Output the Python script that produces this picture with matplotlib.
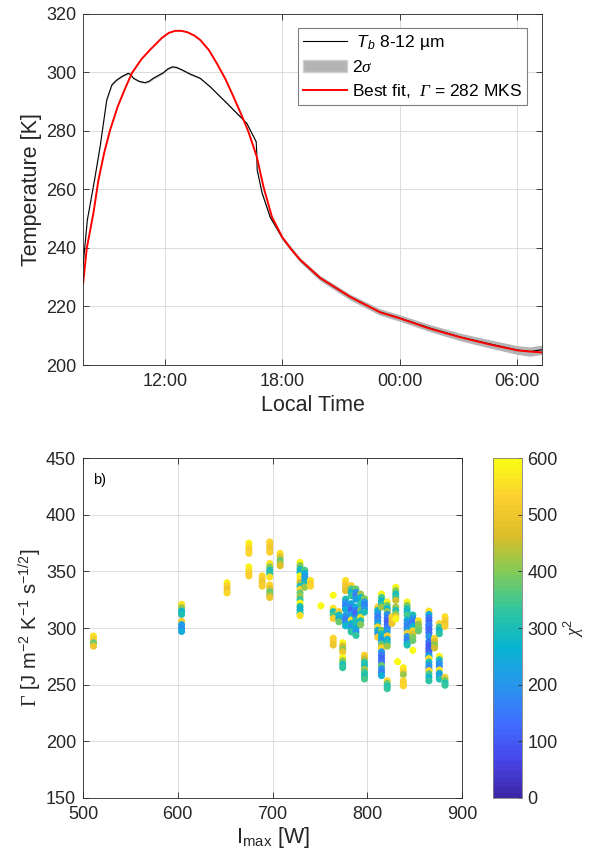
import matplotlib
matplotlib.use("Agg")
from matplotlib import pyplot as plt
from matplotlib.colors import LinearSegmentedColormap
from matplotlib.patches import Patch
from matplotlib.lines import Line2D
import numpy as np

plt.rcParams['font.family'] = ['Liberation Sans', 'DejaVu Sans']
plt.rcParams['mathtext.fontset'] = 'custom'
plt.rcParams['mathtext.rm'] = 'Liberation Sans'
plt.rcParams['mathtext.it'] = 'Liberation Sans:italic'
plt.rcParams['mathtext.bf'] = 'Liberation Serif'
plt.rcParams['mathtext.cal'] = 'Liberation Serif:italic'

# ---- top panel: brightness temperature vs local time (hours, >24 = next day)
hours_obs = [7.82, 8.04, 8.4, 8.69, 9.03, 9.29, 9.37, 9.54, 9.8, 10.13, 10.25, 10.39,
             10.7, 10.99, 11.2, 11.41, 11.92, 12.15, 12.38, 12.6, 12.86, 13.3, 13.8,
             14.31, 15.16, 16.18, 16.66, 16.69, 16.71, 16.96, 17.37, 18.0, 18.9,
             19.92, 21.46, 22.99, 23.97, 25.54, 27.07, 28.6, 30.0, 30.65, 31.25]
tb_obs = [234, 249.6, 263, 274.6, 290.6, 295.7, 296.3, 297.4, 298.6, 299.7, 299.3, 298,
          296.9, 296.5, 297, 298, 299.9, 301.2, 301.9, 301.7, 300.9, 299.4, 298,
          295.1, 289.5, 282.6, 276.3, 272.5, 266.7, 258.8, 250.6, 243.4, 235.9,
          229.7, 223.2, 218.1, 216.1, 212.6, 209.6, 207.2, 205.1, 204.6, 205.2]
sigma_obs = [0.15, 0.15, 0.15, 0.15, 0.15, 0.15, 0.15, 0.15, 0.15, 0.15, 0.15, 0.15,
             0.15, 0.15, 0.15, 0.15, 0.15, 0.15, 0.15, 0.15, 0.15, 0.15, 0.15,
             0.15, 0.15, 0.15, 0.15, 0.15, 0.2, 0.25, 0.3, 0.35, 0.4,
             0.45, 0.5, 0.55, 0.55, 0.6, 0.65, 0.7, 0.75, 0.8, 0.8]

hours_fit = [7.82, 8.01, 8.35, 8.6, 8.9, 9.2, 9.6, 10.0, 10.31, 10.8, 11.24, 11.85,
             12.2, 12.52, 12.85, 13.16, 13.5, 13.8, 14.25, 14.65, 15.1, 15.5, 15.9,
             16.26, 16.69, 17.03, 17.46, 18.0, 18.45, 18.9, 19.92, 21.46,
             22.99, 23.97, 25.54, 27.07, 28.6, 30.0, 30.65, 31.25]
t_fit = [227.7, 239.9, 251.9, 263, 272.5, 280.3, 288.5, 295, 299.7, 304.5, 307.7, 311.8,
         313.5, 314.2, 314.2, 313.7, 312.6, 311.1, 307.6, 303.1, 297.6, 291.7, 285.6,
         279.8, 271.2, 261, 250.7, 243.6, 239.5, 236, 229.8, 223.3,
         218, 216, 212.4, 209.5, 207, 205, 204.6, 204.3]

time_ticks = [12, 18, 24, 30]
temp_ticks = [200, 220, 240, 260, 280, 300, 320]

# ---- bottom panel: thermal inertia vs I_max, coloured by chi^2
col_imax = [511, 604, 604, 652, 675, 675, 689, 697, 697, 697, 708, 729, 734, 740,
            751, 764, 764, 764, 770, 774, 774, 777, 777, 777, 783, 783, 783,
            788, 788, 788, 793, 793, 797, 797, 797, 811, 811, 815, 815, 815,
            821, 821, 821, 821, 826, 830, 830, 832, 838, 838, 842, 842, 842,
            848, 848, 848, 854, 865, 865, 865, 865, 865, 871, 876, 876, 882, 882]
col_gamma = [
    [293, 290, 287, 284],
    [321, 318, 315, 312], [306, 303, 300, 297],
    [340, 337, 334, 331],
    [375, 372, 369, 366], [354, 351, 348, 346],
    [346, 343, 340, 337],
    [376, 373, 370, 367], [357, 354, 351, 348, 345], [338, 335, 332, 329, 327],
    [366, 363, 360, 357, 355],
    [358, 355, 352, 349, 346, 343, 340, 337, 334, 331, 328, 325, 322, 319, 316, 313, 311],
    [351, 348, 345, 342, 339, 336],
    [342, 339, 337],
    [319.7],
    [329], [317.5, 314.5, 311.5, 308.5], [291, 288, 285],
    [314.5, 311.5, 308.5, 305.5],
    [287, 284, 281, 279], [274, 271, 268, 265],
    [342, 339, 336, 333], [325.5, 322.5, 319.5, 316.5], [311, 308, 305, 302],
    [337.5, 334.5, 331.5, 328.5], [321.5, 318.5, 315.5, 312.5, 310], [307, 304, 301, 298, 296.6],
    [334.5, 331.5, 328.5, 325.5], [318.5, 315.5, 312.5, 309.5, 307], [302.5, 299.5, 296.5, 293.5],
    [330, 327, 324, 321.5], [315.5, 312.5, 309.5, 306.5, 303],
    [326, 323, 320, 317, 314], [276, 273, 270, 267], [263.5, 260.5, 257.5, 255],
    [318.5, 315.5, 312.5, 309.5, 306.5, 303.5], [301, 298, 295, 292],
    [330, 327, 324, 321, 318.5], [298, 295, 292, 289, 286, 283.5],
    [282, 279, 276, 273, 270, 267, 264, 261, 258],
    [323, 320, 317, 314.5], [312, 309, 306, 303, 300, 297], [293, 290, 287, 284],
    [253.5, 251, 248.5, 246.5],
    [310, 307, 304],
    [336, 333, 330, 327, 324.5], [318.5, 315.5, 312.5, 310, 308],
    [270.3],
    [265, 262, 259], [253.5, 251, 249],
    [323, 320, 317, 314, 311.5], [307, 304, 301, 298], [295.5, 292.5, 289.5, 286.5, 285],
    [311.5, 308.5, 305.5, 302.5, 301], [297.5, 295, 292, 289], [280.3],
    [306.5, 303.5, 300.5, 297.5],
    [315, 312, 309, 306, 303], [301.5, 298.5, 295.5, 292.5], [288, 285, 282, 279, 276, 274.5],
    [273, 270, 267, 264], [262.4, 259.5, 256.5, 253.5],
    [291, 288, 285, 282.5],
    [304, 301, 298, 295], [275, 272, 269, 266, 263, 260, 257, 255],
    [310, 307, 304, 301.5], [256.5, 254, 251.5, 249.5],
]
col_chi2 = [
    [560, 520, 380, 500],
    [560, 420, 280, 300], [520, 220, 180, 250],
    [580, 530, 500, 540],
    [590, 560, 520, 540], [590, 560, 520, 530],
    [540, 520, 500, 520],
    [540, 520, 500, 530], [560, 400, 300, 320, 560], [540, 480, 380, 420, 500],
    [560, 480, 380, 420, 470],
    [590, 400, 300, 280, 590, 560, 450, 300, 540, 380, 420, 330, 590, 300, 260, 320, 560],
    [350, 250, 200, 240, 300, 420],
    [560, 520, 540],
    [600],
    [600], [560, 300, 350, 520], [540, 520, 500],
    [520, 300, 260, 380],
    [590, 450, 400, 500], [590, 400, 300, 330],
    [560, 520, 500, 480], [300, 200, 160, 250], [220, 150, 180, 280],
    [520, 350, 280, 330], [250, 160, 120, 180, 250], [560, 280, 200, 250, 330],
    [380, 200, 150, 220], [260, 150, 120, 160, 300], [300, 250, 200, 330],
    [420, 280, 260, 330], [380, 280, 560, 300, 400],
    [400, 200, 160, 200, 300], [520, 450, 330, 300], [420, 330, 300, 350],
    [520, 280, 200, 150, 180, 250], [540, 280, 200, 520],
    [590, 350, 280, 300, 420], [400, 300, 260, 200, 350, 450],
    [540, 200, 150, 120, 140, 380, 200, 160, 260],
    [590, 380, 280, 420], [200, 150, 110, 130, 160, 230], [520, 250, 300, 420],
    [540, 380, 300, 330],
    [540, 520, 500],
    [590, 400, 300, 330, 450], [420, 300, 400, 520, 590],
    [600],
    [580, 540, 420], [540, 520, 540],
    [590, 400, 300, 280, 350], [250, 180, 160, 220], [520, 200, 160, 220, 300],
    [300, 200, 150, 180, 280], [540, 480, 400, 380], [600],
    [560, 420, 400, 380],
    [560, 250, 150, 120, 160], [150, 120, 140, 200], [150, 110, 100, 120, 180, 250],
    [560, 300, 200, 180], [540, 350, 280, 320],
    [540, 460, 400, 450],
    [540, 350, 280, 320], [590, 300, 200, 180, 560, 250, 200, 300],
    [560, 520, 500, 520], [520, 400, 300, 330],
]

parula_pts = [
    [0.2422, 0.1504, 0.6603], [0.2803, 0.2782, 0.9221], [0.2440, 0.4358, 0.9988],
    [0.1540, 0.5902, 0.9218], [0.0297, 0.7082, 0.8163], [0.1938, 0.7758, 0.6251],
    [0.5044, 0.7993, 0.3480], [0.8634, 0.7406, 0.1596], [0.9892, 0.8136, 0.1885],
    [0.9769, 0.9839, 0.0805]]
parula = LinearSegmentedColormap.from_list("parula", parula_pts, N=64)

txt = "#262626"
spine_c = "#262626"
lab_fs = 15.5
tick_fs = 13

def style_axes(ax):
    for s in ax.spines.values():
        s.set_color(spine_c)
        s.set_linewidth(0.6)
    ax.tick_params(direction="in", length=4, width=0.6, colors=spine_c,
                   labelcolor=txt, labelsize=tick_fs, top=True, right=True)
    ax.tick_params(axis="x", pad=6)
    ax.tick_params(axis="y", pad=5)
    ax.grid(True, color="#dcdcdc", linewidth=0.7)
    ax.set_axisbelow(True)

fig = plt.figure(figsize=(5.89, 8.67), dpi=100)

# ---------------- top panel
ax1 = fig.add_axes([0.141, 0.579, 0.779, 0.405])
style_axes(ax1)
h = np.array(hours_obs)
tb = np.array(tb_obs)
sg = np.array(sigma_obs)
ax1.fill_between(h, tb - 2 * sg, tb + 2 * sg, color="#b4b4b4", linewidth=0)
ax1.plot(h, tb, color="black", linewidth=0.8)
ax1.plot(hours_fit, t_fit, color="red", linewidth=1.4)
ax1.set_xlim(7.82, 31.25)
ax1.set_ylim(200, 320)
ax1.set_xticks(time_ticks)
ax1.set_xticklabels(["%02d:00" % (t % 24) for t in time_ticks])
ax1.set_yticks(temp_ticks)
ax1.set_xlabel("Local Time", fontsize=lab_fs, color=txt, labelpad=3)
ax1.set_ylabel("Temperature [K]", fontsize=lab_fs, color=txt, labelpad=3)

handles = [Line2D([], [], color="black", linewidth=0.8),
           Patch(facecolor="#b4b4b4", edgecolor="#d0d0d0"),
           Line2D([], [], color="red", linewidth=1.4)]
labels = [r" $T_b$ 8-12 µm", r"2$\mathcal{\sigma}$", r"Best fit,  $\mathcal{\Gamma}$ = 282 MKS"]
leg = ax1.legend(handles, labels, loc="upper right", bbox_to_anchor=(0.968, 0.960),
                 fontsize=12.5, frameon=True, fancybox=False, framealpha=1,
                 edgecolor="#7f7f7f", handlelength=2.5, handletextpad=0.3,
                 borderpad=0.3, labelspacing=0.4, borderaxespad=0)
leg.get_frame().set_linewidth(0.8)
for t in leg.get_texts():
    t.set_color("black")

# ---------------- bottom panel
ax2 = fig.add_axes([0.141, 0.0796, 0.6435, 0.392])
style_axes(ax2)
xs, ys, cs = [], [], []
for im, gs, ch in zip(col_imax, col_gamma, col_chi2):
    for g, c in zip(gs, ch):
        xs.append(im)
        ys.append(g)
        cs.append(c)
sc = ax2.scatter(xs, ys, c=cs, cmap=parula, vmin=0, vmax=600, s=26,
                 edgecolors="none", zorder=3)
ax2.set_xlim(500, 900)
ax2.set_ylim(150, 450)
ax2.set_xticks([500, 600, 700, 800, 900])
ax2.set_yticks([150, 200, 250, 300, 350, 400, 450])
ax2.set_xlabel(r"I$_{\mathrm{max}}$ [W]", fontsize=lab_fs, color=txt, labelpad=1)
ax2.set_ylabel(r"$\mathbf{\Gamma}$ [J m$^{\mathrm{-2}}$ K$^{\mathrm{-1}}$ s$^{\mathrm{-1/2}}$]",
               fontsize=14.5, color=txt, labelpad=1)
ax2.text(0.027, 0.955, "b)", transform=ax2.transAxes, fontsize=10.5,
         color="black", va="top", ha="left")

cax = fig.add_axes([0.837, 0.0796, 0.049, 0.392])
cb = fig.colorbar(sc, cax=cax)
cb.set_ticks([0, 100, 200, 300, 400, 500, 600])
cb.outline.set_edgecolor("#7f7f7f")
cb.outline.set_linewidth(0.6)
cax.tick_params(direction="in", length=3, width=0.6, colors=spine_c,
                labelcolor=txt, labelsize=tick_fs, pad=4)
cb.set_label(r"$\mathcal{\chi}^{\mathrm{2}}$", fontsize=13, color=txt, labelpad=3)

fig.savefig("out.png", dpi=100)
